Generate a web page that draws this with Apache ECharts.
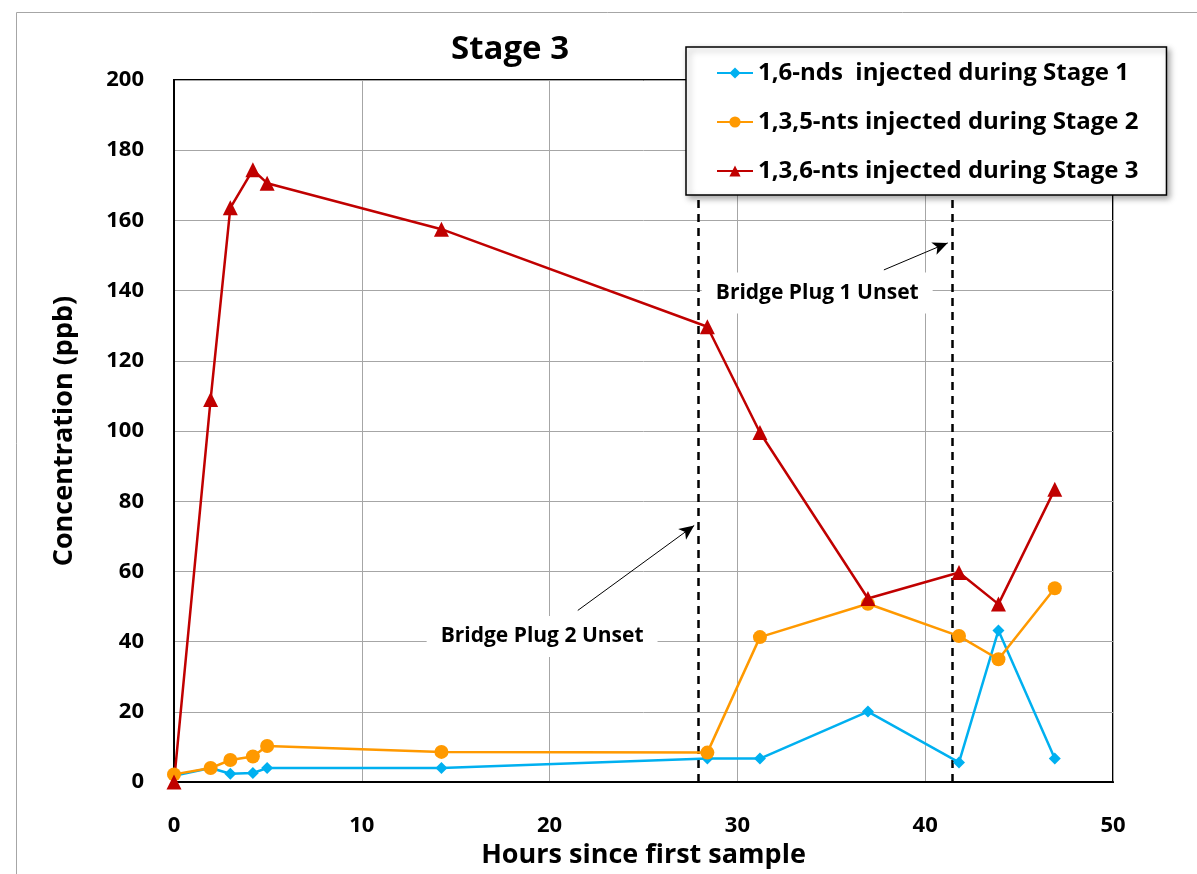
<!DOCTYPE html>
<html>
<head>
<meta charset="utf-8">
<script src="https://cdn.jsdelivr.net/npm/echarts@6/dist/echarts.min.js"></script>
<style>
  html, body { margin: 0; padding: 0; background: #fff; }
  #chart { width: 1197px; height: 874px; }
</style>
</head>
<body>
<div id="chart"></div>
<script>
// hours since first sample (shared by all three tracers)
const hours = [0, 1.95, 3.0, 4.2, 4.96, 14.24, 28.4, 31.2, 36.95, 41.8, 43.9, 46.9];

const seriesNames = [
  '1,6-nds  injected during Stage 1',
  '1,3,5-nts injected during Stage 2',
  '1,3,6-nts injected during Stage 3'
];
const nds16  = [1.8, 4.0, 2.4, 2.6, 4.0, 4.0, 6.7, 6.7, 20.1, 5.6, 43.2, 6.7];
const nts135 = [2.2, 4.0, 6.3, 7.3, 10.3, 8.6, 8.4, 41.3, 50.8, 41.6, 35.0, 55.2];
const nts136 = [0, 109, 163.6, 174.4, 170.6, 157.5, 129.7, 99.6, 52.3, 59.7, 50.7, 83.4];

const xTicks = { min: 0, max: 50, interval: 10 };
const yTicks = { min: 0, max: 200, interval: 20 };

// bridge plug events and their callouts (data coordinates)
const plugHours = [27.9, 41.45];
const noteText = ['Bridge Plug 2 Unset', 'Bridge Plug 1 Unset'];
const noteAt = [[19.6, 41.5], [34.25, 139.3]];
const arrowFrom = [[21.5, 48.9], [37.8, 145.9]];
const arrowTo = [[27.7, 73.1], [41.2, 153.6]];

const FONT = '"Open Sans"';
const pair = ys => hours.map((h, i) => [h, ys[i]]);

function lineSeries(name, ys, color, symbol, size, extra) {
  return Object.assign({
    name, type: 'line', data: pair(ys),
    symbol, symbolSize: size,
    lineStyle: { color, width: 2.5 },
    itemStyle: { color },
    emphasis: { disabled: true },
    clip: false
  }, extra || {});
}

const chart = echarts.init(document.getElementById('chart'), null, { renderer: 'canvas' });

chart.setOption({
  animation: false,
  backgroundColor: '#fff',
  graphic: [{
    type: 'rect', left: 14, top: 10, z: -10,
    shape: { width: 1400, height: 1000 },
    style: { fill: 'none', stroke: '#a6a6a6', lineWidth: 1 }
  }],
  title: {
    text: 'Stage 3', left: 446, top: 28,
    textStyle: { fontFamily: FONT, fontSize: 33, fontWeight: 'bold', color: '#000' }
  },
  legend: {
    orient: 'vertical', left: 686, top: 47, z: 10,
    padding: [11, 28, 9, 30], itemGap: 19,
    itemWidth: 36, itemHeight: 14,
    backgroundColor: '#fff', borderColor: '#000', borderWidth: 1.5,
    shadowBlur: 6, shadowOffsetX: 3, shadowOffsetY: 3, shadowColor: 'rgba(0,0,0,0.35)',
    textStyle: { fontFamily: FONT, fontSize: 24, fontWeight: 'bold', color: '#000', lineHeight: 30 },
    data: seriesNames
  },
  grid: {
    left: 174, right: 84, top: 80, bottom: 91,
    show: true, borderColor: '#000', borderWidth: 2
  },
  xAxis: {
    type: 'value', min: xTicks.min, max: xTicks.max, interval: xTicks.interval,
    name: 'Hours since first sample', nameLocation: 'middle', nameGap: 59,
    nameTextStyle: { fontFamily: FONT, fontSize: 27, fontWeight: 'bold', color: '#000' },
    axisLine: { lineStyle: { color: '#000', width: 2 } },
    axisTick: { show: false },
    axisLabel: { fontFamily: FONT, fontSize: 22, fontWeight: 'bold', color: '#000', margin: 33 },
    splitLine: { lineStyle: { color: '#a6a6a6', width: 1 } }
  },
  yAxis: {
    type: 'value', min: yTicks.min, max: yTicks.max, interval: yTicks.interval,
    name: 'Concentration (ppb)', nameLocation: 'middle', nameGap: 96,
    nameTextStyle: { fontFamily: FONT, fontSize: 27, fontWeight: 'bold', color: '#000' },
    axisLine: { show: true, lineStyle: { color: '#000', width: 2 } },
    axisTick: { show: false },
    axisLabel: { fontFamily: FONT, fontSize: 22, fontWeight: 'bold', color: '#000', margin: 30 },
    splitLine: { lineStyle: { color: '#a6a6a6', width: 1 } }
  },
  series: [
    lineSeries(seriesNames[0], nds16, '#00b0f0', 'diamond', 12, {
      markLine: {
        silent: true, symbol: 'none', label: { show: false }, z: 3,
        lineStyle: { color: '#000', type: [8, 6], width: 2.5 },
        data: plugHours.map(h => ({ xAxis: h }))
      }
    }),
    lineSeries(seriesNames[1], nts135, '#ff9900', 'circle', 14, {
      markLine: {
        silent: true, symbol: ['none', 'arrow'], symbolSize: [10, 15], z: 3,
        label: { show: false },
        lineStyle: { color: '#000', type: 'solid', width: 1 },
        data: arrowFrom.map((p, i) => [{ coord: p }, { coord: arrowTo[i] }])
      },
      markPoint: {
        silent: true, symbol: 'rect', symbolSize: 1, z: 3,
        itemStyle: { color: 'rgba(0,0,0,0)' },
        label: {
          show: true, position: 'inside', formatter: p => p.name,
          fontFamily: FONT, fontSize: 21, fontWeight: 'bold', color: '#000',
          backgroundColor: '#fff', padding: [10, 14, 10, 14]
        },
        data: noteAt.map((p, i) => ({ name: noteText[i], coord: p }))
      }
    }),
    lineSeries(seriesNames[2], nts136, '#c00000', 'triangle', 15)
  ]
});
</script>
</body>
</html>
